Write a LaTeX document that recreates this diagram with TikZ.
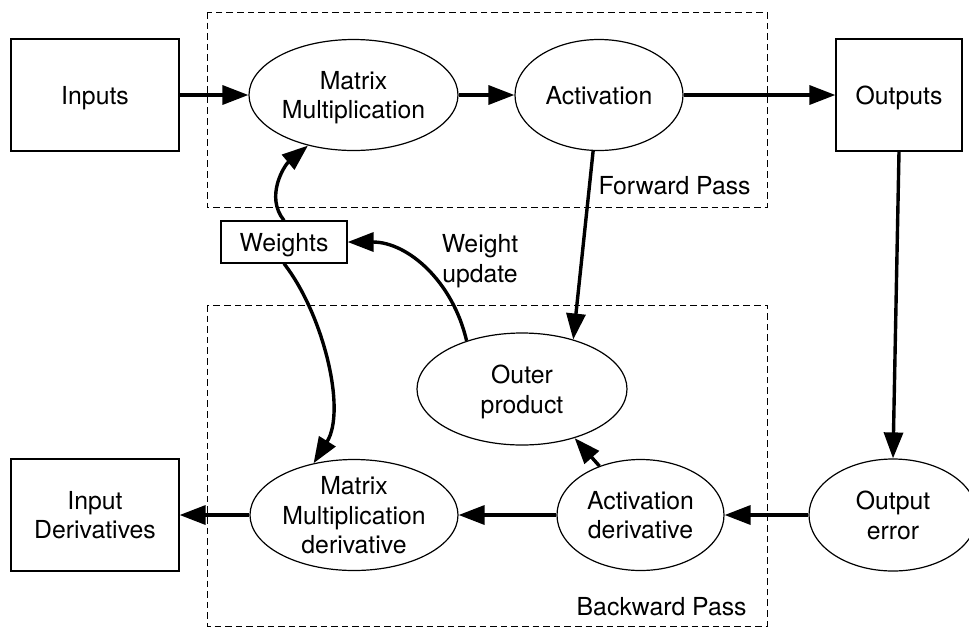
\documentclass[tikz,border=0pt]{standalone}
\usepackage{fontspec}
\setmainfont{TeX Gyre Heros}
\usetikzlibrary{shapes.geometric,arrows.meta}
\begin{document}
\begin{tikzpicture}[x=0.5pt,y=-0.5pt,
  every node/.style={font=\fontsize{12.4pt}{14.8pt}\selectfont, align=center, inner sep=0pt},
  box/.style={draw, line width=0.6pt, rectangle, text depth=0pt},
  oval/.style={draw, line width=0.6pt, ellipse, text depth=0pt},
  flow/.style={line width=1.7pt, -{Triangle[length=13pt,width=9.5pt]}},
  region/.style={draw, line width=0.5pt, dash pattern=on 3.3pt off 2pt}]
\useasboundingbox (0,0) rectangle (969,628);

% pass regions
\draw[region] (207,12) rectangle (767,207);
\draw[region] (207,305) rectangle (767,626);
\node[anchor=base east] (fwd) at (751,194) {Forward Pass};
\node[anchor=base east] (bwd) at (747,615) {Backward Pass};

% forward row
\node[box, minimum width=84pt, minimum height=56pt] (inputs) at (95,95) {Inputs};
\node[oval, minimum width=104.5pt, minimum height=55.5pt] (mm) at (353.5,95) {Matrix\\Multiplication};
\node[oval, minimum width=84pt, minimum height=55.5pt] (act) at (599,95) {Activation};
\node[box, minimum width=63pt, minimum height=56pt] (outputs) at (899,95) {Outputs};

% weights and update
\node[box, minimum width=63pt, minimum height=21pt] (weights) at (284,242) {Weights};
\node[anchor=north] (wu) at (480,234) {Weight\\update};
\node[oval, minimum width=105pt, minimum height=56pt] (outer) at (522,389) {Outer\\product};

% backward row
\node[box, minimum width=84pt, minimum height=56pt] (inder) at (95,515) {Input\\Derivatives};
\node[oval, inner sep=-2pt, minimum width=104pt, minimum height=55.5pt] (mmd) at (354,515) {Matrix\\Multiplication\\derivative};
\node[oval, minimum width=83.5pt, minimum height=55.5pt] (actd) at (640.5,515) {Activation\\derivative};
\node[oval, minimum width=84pt, minimum height=56pt] (outerr) at (893,515) {Output\\error};

% connectors
\draw[flow] (inputs.east) -- (mm.west);
\draw[flow] (mm.east) -- (act.west);
\draw[flow] (act.east) -- (outputs.west);
\draw[flow] (outputs.south) -- (outerr.north);
\draw[flow] (outerr.west) -- (actd.east);
\draw[flow] (actd.west) -- (mmd.east);
\draw[flow] (mmd.west) -- (inder.east);
\draw[flow] (act.264) -- (outer.44);
\draw[flow] (actd.130) -- (outer.317);
\draw[flow] (outer.139) to[out=103,in=0] (weights.east);
\draw[flow] (weights.north) to[out=129,in=220] (mm.228);
\draw[flow] (weights.south) to[out=-52,in=58,looseness=0.8] (mmd.128);
\end{tikzpicture}
\end{document}
